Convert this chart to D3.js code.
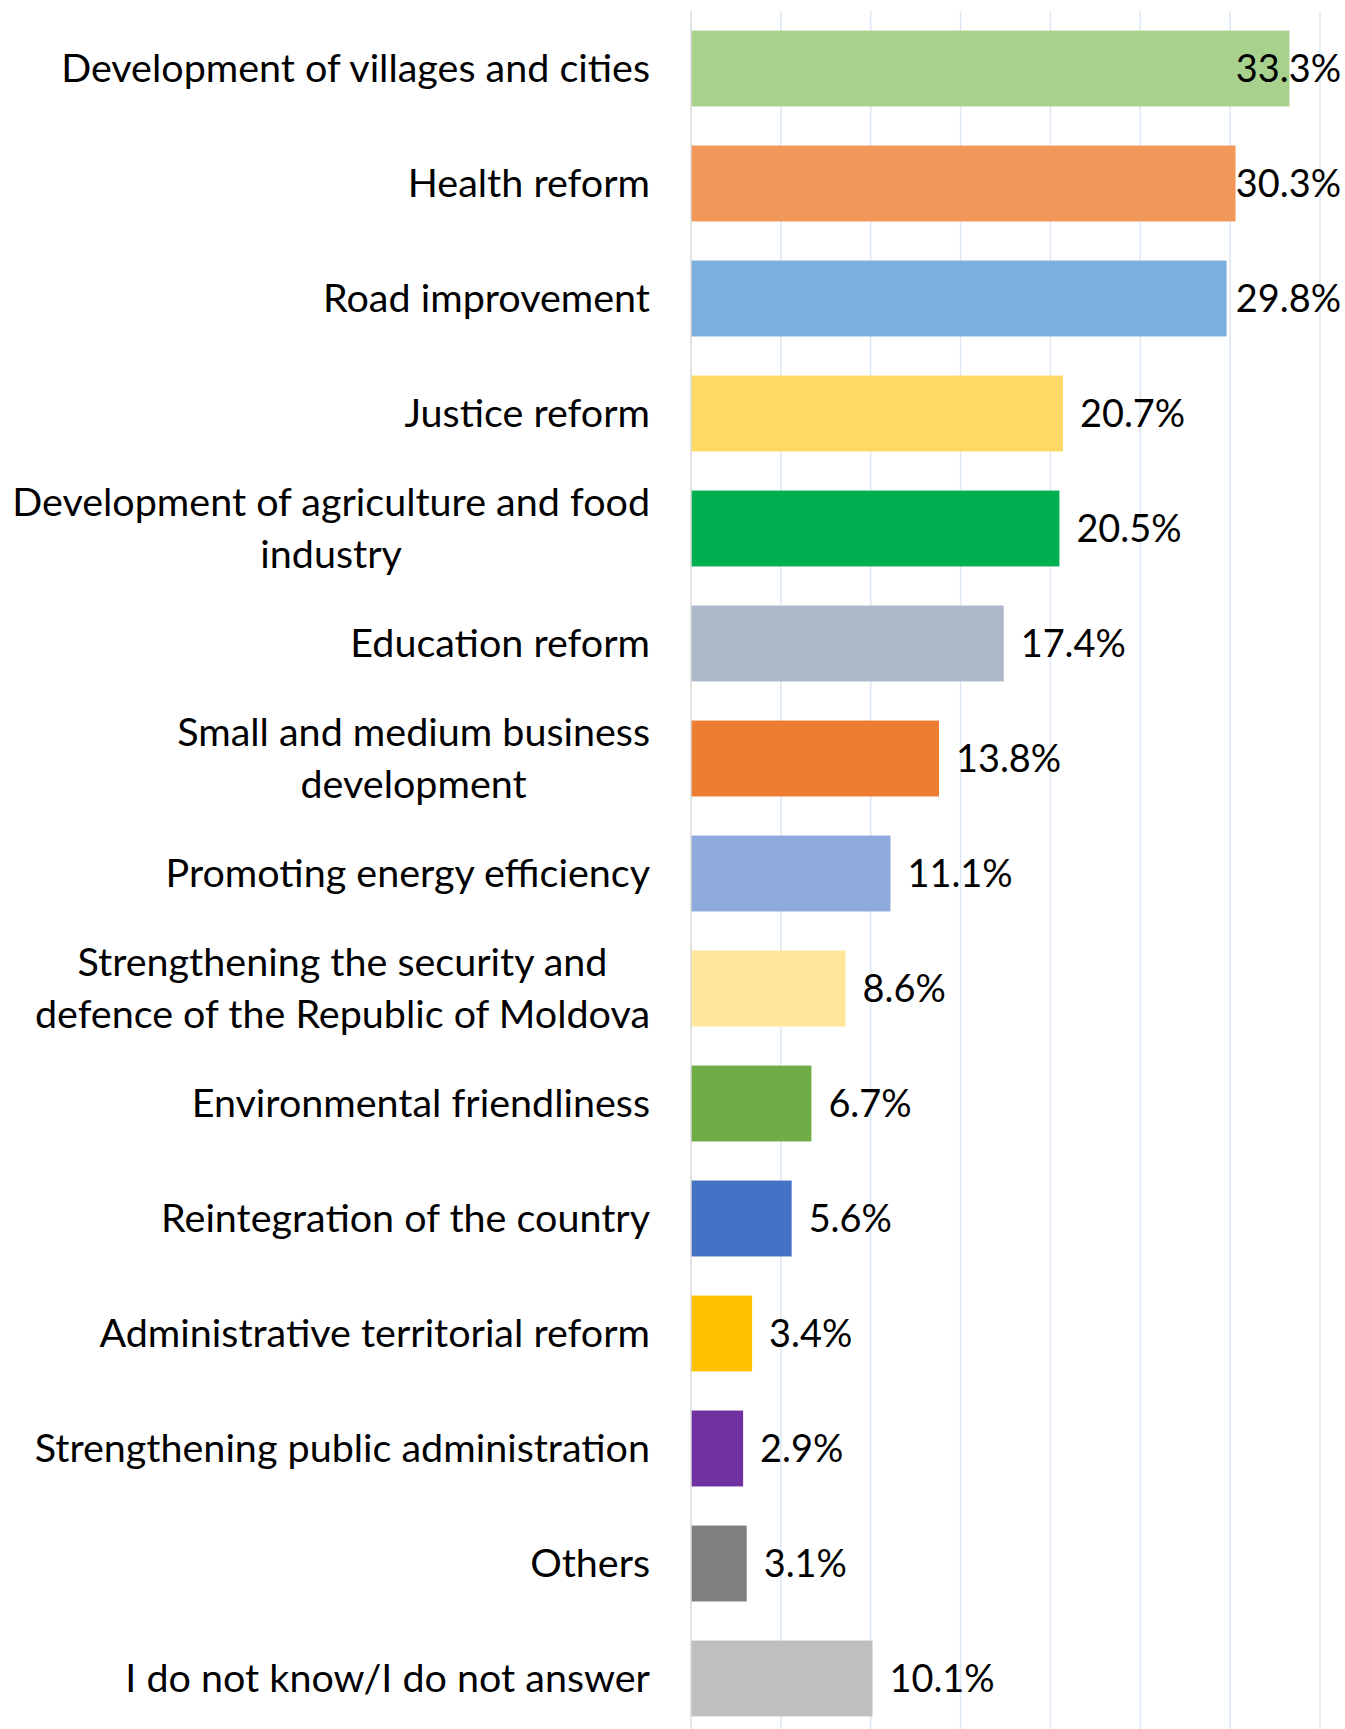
<!DOCTYPE html>
<html>
<head>
<meta charset="utf-8">
<script src="https://cdn.jsdelivr.net/npm/d3@7"></script>
<style>
  html, body { margin: 0; padding: 0; background: #fff; }
  svg { display: block; }
  text { font-family: Lato, "Open Sans", sans-serif; fill: #000; }
</style>
</head>
<body>
<svg id="chart" width="1345" height="1729"></svg>
<script>
// Categories, top to bottom (wrapped lines as in the original)
const categories = [
  ['Development of villages and cities'],
  ['Health reform'],
  ['Road improvement'],
  ['Justice reform'],
  ['Development of agriculture and food', 'industry'],
  ['Education reform'],
  ['Small and medium business', 'development'],
  ['Promoting energy efficiency'],
  ['Strengthening the security and', 'defence of the Republic of Moldova'],
  ['Environmental friendliness'],
  ['Reintegration of the country'],
  ['Administrative territorial reform'],
  ['Strengthening public administration'],
  ['Others'],
  ['I do not know/I do not answer']
];
const values = [33.3, 30.3, 29.8, 20.7, 20.5, 17.4, 13.8, 11.1, 8.6, 6.7, 5.6, 3.4, 2.9, 3.1, 10.1];
const colors = ['#A9D18E', '#F1975A', '#7DAFDE', '#FFD966', '#00B050', '#ADB9CA', '#ED7D31',
  '#8FAADC', '#FFE699', '#70AD47', '#4472C4', '#FFC000', '#7030A0', '#7F7F7F', '#BFBFBF'];
const xTicks = [5, 10, 15, 20, 25, 30, 35];

const svg = d3.select('#chart');
const W = 1345, H = 1729;

const x = d3.scaleLinear().domain([0, 35]).range([691, 1320]);
const y = d3.scaleBand().domain(d3.range(values.length)).range([11, 1736]).paddingInner(0.34).paddingOuter(0.17);

// Gridlines
svg.append('g').selectAll('line').data(xTicks).join('line')
  .attr('x1', d => x(d)).attr('x2', d => x(d))
  .attr('y1', 11).attr('y2', H)
  .attr('stroke', '#DCE7F3').attr('stroke-width', 1.5);

// Bars
svg.append('g').selectAll('rect').data(values).join('rect')
  .attr('x', x(0))
  .attr('y', (d, i) => y(i))
  .attr('width', d => x(d) - x(0))
  .attr('height', y.bandwidth())
  .attr('fill', (d, i) => colors[i]);

// Axis line at zero
svg.append('line')
  .attr('x1', x(0)).attr('x2', x(0)).attr('y1', 11).attr('y2', H)
  .attr('stroke', '#D9D9D9').attr('stroke-width', 1.5);

// fit font size so the first label matches the original width
const probe = svg.append('text').attr('font-size', 40).text(categories[0][0]);
const fontSize = 40 * 589 / probe.node().getComputedTextLength();
probe.remove();
const lineH = fontSize * 1.32;

// Category labels
const labelRight = 650;
const labels = svg.append('g').selectAll('g').data(categories).join('g');
labels.each(function (lines, i) {
  const g = d3.select(this);
  const cy = y(i) + y.bandwidth() / 2;
  const t = g.selectAll('text').data(lines).join('text')
    .attr('font-size', fontSize)
    .attr('dy', '0.35em')
    .attr('y', (d, k) => cy + (k - (lines.length - 1) / 2) * lineH)
    .text(d => d);
  if (lines.length === 1) {
    t.attr('x', labelRight).attr('text-anchor', 'end');
  } else {
    const maxW = d3.max(t.nodes(), n => n.getComputedTextLength());
    t.attr('x', labelRight - maxW / 2).attr('text-anchor', 'middle');
  }
});

// Value labels (kept inside the chart area, like the original)
const valueRight = 1341;
svg.append('g').selectAll('text').data(values).join('text')
  .attr('y', (d, i) => y(i) + y.bandwidth() / 2)
  .attr('dy', '0.35em')
  .attr('font-size', fontSize * 0.96)
  .text(d => d.toFixed(1) + '%')
  .attr('x', function (d) {
    const w = this.getComputedTextLength();
    return Math.min(x(d) + 17, valueRight - w);
  });
</script>
</body>
</html>
